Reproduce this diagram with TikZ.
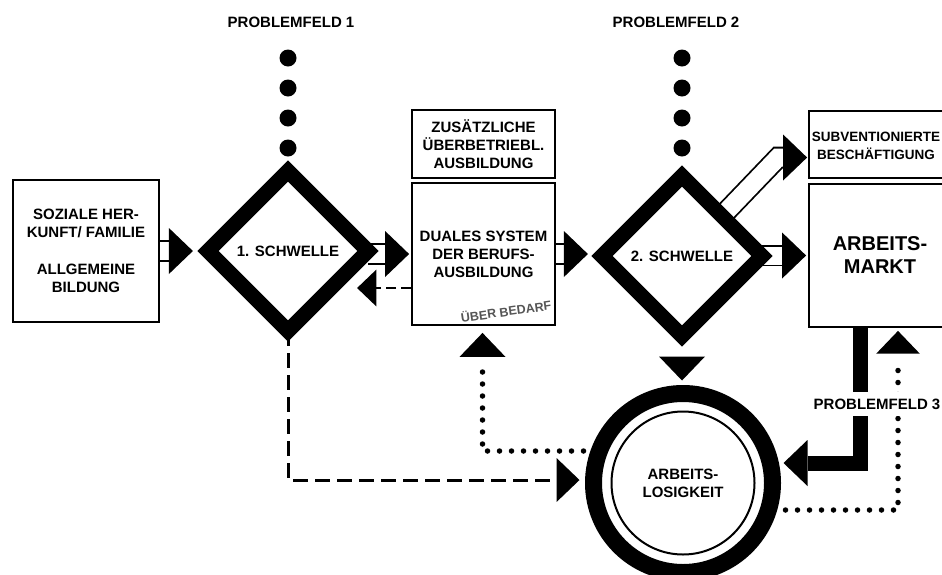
\documentclass[tikz,border=0pt]{standalone}
\usepackage{fontspec}
\setmainfont{Liberation Sans}
\usetikzlibrary{shapes.geometric,calc,backgrounds}
\definecolor{bedarfgrau}{RGB}{85,85,85}

\tikzset{
  lbl/.style={font=\bfseries\fontsize{15}{18}\selectfont, align=center},
  box/.style={draw, line width=1.8pt, fill=white, inner sep=0pt},
  schwelle/.style={diamond, draw, line width=15pt, aspect=1, minimum size=160pt, inner sep=0pt, outer sep=0pt},
  hollow/.style={double=white, double distance=18pt, line width=1.8pt},
  bar/.style={line width=15pt},
  dashline/.style={line width=3pt, dash pattern=on 15pt off 7pt},
  dotline/.style={line width=5.5pt, line cap=round, dash pattern=on 0pt off 12pt},
  head/.pic={\fill (0,0) -- (-24,-23) -- (-24,23) -- cycle;},
}

\begin{document}
\begin{tikzpicture}[x=1pt,y=1pt,yscale=-1,xscale=1]
\useasboundingbox (0,0) rectangle (942,574);
\clip (0,0) rectangle (942,574);

% Problemfelder oben
\node[lbl] (pf1) at (291,22) {PROBLEMFELD 1};
\node[lbl] (pf2) at (676,22) {PROBLEMFELD 2};
\foreach \y in {58,88,118,148} {
  \fill (288,\y) circle (8.5);
  \fill (682,\y) circle (8.5);
}

% Kaesten und Schwellen
\node[box, lbl, minimum width=146pt, minimum height=142pt] (herkunft) at (86,251) {SOZIALE HER-\\KUNFT/ FAMILIE\\[19pt]ALLGEMEINE\\BILDUNG};
\node[schwelle, lbl] (s1) at (288,251) {1. SCHWELLE};
\node[box, lbl, minimum width=143pt, minimum height=68pt] (zusatz) at (483.5,144) {ZUSÄTZLICHE\\ÜBERBETRIEBL.\\AUSBILDUNG};
\node[box, lbl, minimum width=143pt, minimum height=142pt] (dual) at (483.5,254) {DUALES SYSTEM\\DER BERUFS-\\AUSBILDUNG};
\node[lbl, font=\bfseries\fontsize{12.5}{15}\selectfont, text=bedarfgrau, rotate=8] (bedarf) at (506,311) {ÜBER BEDARF};
\node[schwelle, lbl] (s2) at (682,256) {2. SCHWELLE};
\node[box, minimum width=142pt, minimum height=67pt] (subv) at (880,144.5) {};
\node[lbl, font=\bfseries\fontsize{13.5}{18}\selectfont] (subvtext) at (876,146) {SUBVENTIONIERTE\\BESCHÄFTIGUNG};
\node[box, lbl, font=\bfseries\fontsize{20}{23}\selectfont, minimum width=142pt, minimum height=143pt] (markt) at (880,255.5) {ARBEITS-\\MARKT};

% Arbeitslosigkeit
\node[circle, draw, line width=17pt, minimum size=179pt, inner sep=0pt, outer sep=0pt, lbl] (alo) at (683,483) {ARBEITS-\\LOSIGKEIT};
\draw[line width=2pt] (alo.center) circle (71.5);

\node[lbl, fill=white, inner xsep=0pt, inner ysep=7pt] (pf3) at (877,404) {PROBLEMFELD 3};

% Verbindungen
\begin{scope}[on background layer]
\draw[hollow] (herkunft.east) -- ++(9,0) coordinate (h1);
\pic at ($(h1)+(24,0)$) {head};

\draw[hollow] (s1.east |- dual.west) -- ($(dual.west)+(-26,0)$) coordinate (h2);
\pic at ($(h2)+(24,0)$) {head};

\draw[line width=2.5pt, dash pattern=on 10pt off 5pt] ($(dual.west)+(0,34)$) -- ++(-35,0) coordinate (h6);
\pic[rotate=180, scale=0.8] at ($(h6)+(-19,0)$) {head};

\draw[hollow] (dual.east) -- ++(8,0) coordinate (h3);
\pic at ($(h3)+(24,0)$) {head};

\draw[hollow] (s2.east |- markt.west) -- ($(markt.west)+(-26,0)$) coordinate (h4);
\pic at ($(h4)+(24,0)$) {head};

\draw[hollow] (s2.north east) -- ($(subv.west)+(-30,13)$) -- ($(subv.west)+(-25,13)$) coordinate (h5);
\pic at ($(h5)+(24,0)$) {head};

\draw[dashline] (s1.south) |- ($(alo.west)+(-37,-3)$) coordinate (h7);
\pic[scale=0.95] at ($(h7)+(23,0)$) {head};

\draw[dotline] ($(alo.west)+(-10,-32)$) -| ($(dual.south)+(-1,37)$);
\pic[rotate=90] at ($(dual.south)+(-1,7)$) {head};

\draw[dotline] ($(alo.east)+(13,27)$) -| ($(markt.south)+(18,33)$);
\pic[rotate=90, scale=0.95] at ($(markt.south)+(18,3)$) {head};

\draw[bar] ($(markt.south)+(-20,0)$) |- ($(alo.east)+(35,-20)$);
\pic[rotate=180] at ($(alo.east)+(11,-20)$) {head};

\pic[rotate=-90] at ($(s2.south |- alo.north)+(0,-13)$) {head};
\end{scope}

\end{tikzpicture}
\end{document}
